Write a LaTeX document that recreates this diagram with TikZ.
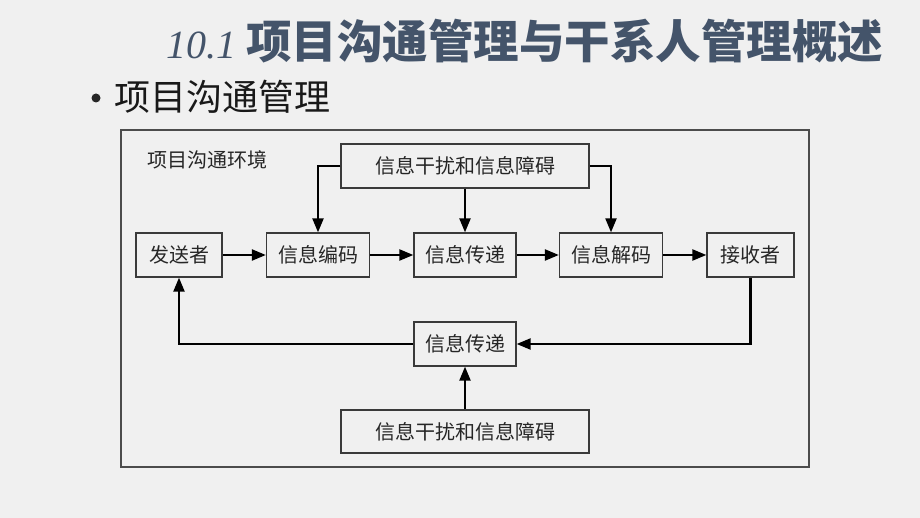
\documentclass[tikz,border=0pt]{standalone}
\usepackage{fontspec}
\setmainfont{Liberation Serif}
\newfontfamily\cjk{Noto Sans CJK SC}
\usepackage{xcolor}
\usetikzlibrary{shapes,arrows.meta}
\definecolor{titleblue}{HTML}{44546A}
\definecolor{pagegray}{HTML}{F0F0F0}
\definecolor{boxline}{HTML}{3A3A3A}

\begin{document}
\begin{tikzpicture}[x=1pt, y=-1pt]
\tikzstyle{boxr}=[rectangle, draw=boxline, line width=1.3pt, minimum height=44pt, inner sep=0pt, font=\cjk\fontsize{20}{20}\selectfont, text=black!85]
\tikzstyle{drawstyle}=[line width=2.2pt, -{Triangle[length=14pt, width=11pt]}]

\useasboundingbox[fill=pagegray] (0,0) rectangle (920,518);

% heading and bullet line
\node[anchor=west, text=titleblue, inner sep=0pt] (Title) at (166,41)
  {{\itshape\fontsize{40}{40}\selectfont 10.1}\hspace{10pt}{\cjk\bfseries\fontsize{45.5}{45.5}\selectfont 项目沟通管理与干系人管理概述}};
\fill[black!85] (96,98) circle (4.5pt);
\node[anchor=west, inner sep=0pt, text=black!90, font=\cjk\fontsize{36}{36}\selectfont] (Sub) at (114,97) {项目沟通管理};

% environment frame
\draw[draw=black!70, line width=1.4pt] (121,130) rectangle (809,467);
\node[anchor=west, inner sep=0pt, text=black!85, font=\cjk\fontsize{20}{20}\selectfont] (Env) at (147,160) {项目沟通环境};

% main row
\node[boxr, minimum width=86pt] (Send) at (179,255) {发送者};
\node[boxr, minimum width=103pt] (Code) at (318,255) {信息编码};
\node[boxr, minimum width=102pt] (Pass) at (465,255) {信息传递};
\node[boxr, minimum width=103pt] (Decode) at (611,255) {信息解码};
\node[boxr, minimum width=87pt] (Recv) at (750.5,255) {接收者};

% noise boxes and feedback
\node[boxr, minimum width=248pt] (NoiseT) at (465,166) {信息干扰和信息障碍};
\node[boxr, minimum width=102pt] (Back) at (465,344) {信息传递};
\node[boxr, minimum width=248pt, minimum height=43pt] (NoiseB) at (465,431.5) {信息干扰和信息障碍};

\draw[drawstyle] (Send) -- (Code);
\draw[drawstyle] (Code) -- (Pass);
\draw[drawstyle] (Pass) -- (Decode);
\draw[drawstyle] (Decode) -- (Recv);
\draw[drawstyle] (NoiseT.west) -| (Code.north);
\draw[drawstyle] (NoiseT.south) -- (Pass.north);
\draw[drawstyle] (NoiseT.east) -| (Decode.north);
\draw[drawstyle] (Recv.south) |- (Back.east);
\draw[drawstyle] (Back.west) -| (Send.south);
\draw[drawstyle] (NoiseB.north) -- (Back.south);
\end{tikzpicture}
\end{document}
